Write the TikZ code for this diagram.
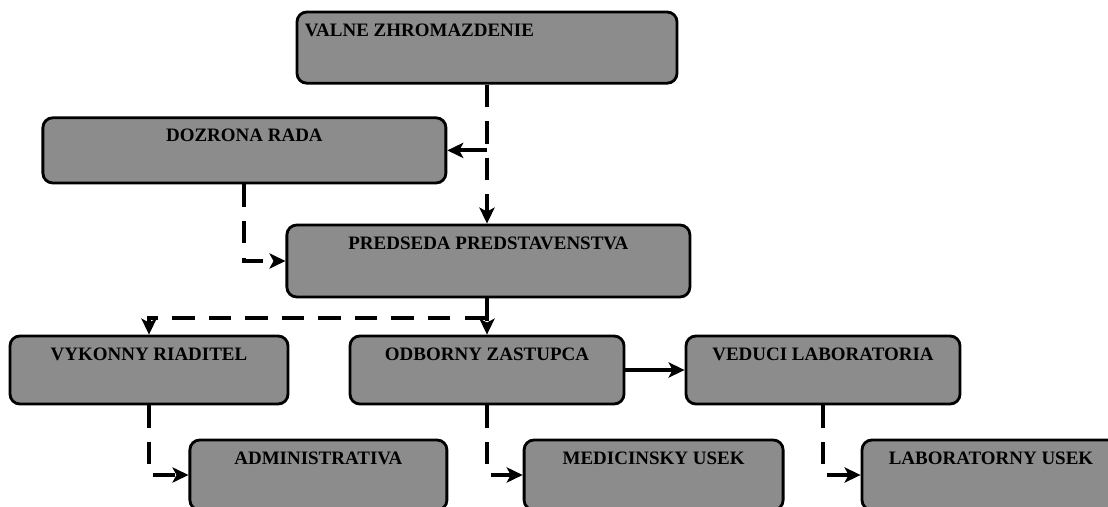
\documentclass[tikz,border=0pt]{standalone}
\usepackage{fontspec}
\setmainfont{Liberation Serif}
\usetikzlibrary{arrows.meta, positioning, calc}
\definecolor{cfill}{gray}{0.55}
\tikzset{
  every picture/.style={line width=2.8pt},
  box/.style={draw, line width=2pt, rounded corners=7pt, fill=cfill, minimum width=#1, minimum height=1.7cm, inner sep=0pt},
  box/.default=6.9cm,
  boxtext/.style={font=\fontsize{13.5}{15}\selectfont\bfseries, anchor=north, yshift=-0.24cm, inner sep=1pt},
  arrow/.style={-{Stealth[length=4mm, width=3.8mm, inset=1mm]}},
  dasharrow/.style={arrow, dash pattern=on 16pt off 10pt},
}

\begin{document}
\begin{tikzpicture}
  \useasboundingbox (0,0) rectangle (27.7,-12.675);
  % top of the chart
  \node[box=9.5cm, minimum height=1.78cm,
        label={[boxtext, anchor=north west, xshift=0.15cm]north west:VALNE ZHROMAZDENIE}] (valne) at (12.175,-1.19) {};
  \node[box=10.075cm, minimum height=1.63cm, label={[boxtext]north:DOZRONA RADA}] (dozor) at (6.11,-3.76) {};
  \node[box=10.075cm, minimum height=1.8cm, label={[boxtext]north:PREDSEDA PREDSTAVENSTVA}] (predseda) at (12.21,-6.525) {};
  % middle row
  \node[box=6.95cm, label={[boxtext]north:VYKONNY RIADITEL}] (vykonny) at (3.725,-9.25) {};
  \node[box=6.85cm, label={[boxtext]north:ODBORNY ZASTUPCA}] (odborny) at (12.175,-9.25) {};
  \node[box=6.85cm, label={[boxtext]north:VEDUCI LABORATORIA}] (veduci) at (20.575,-9.25) {};
  % bottom row
  \node[box=6.425cm, minimum height=1.75cm, label={[boxtext]north:ADMINISTRATIVA}] (admin) at (7.96,-11.875) {};
  \node[box=6.475cm, minimum height=1.75cm, label={[boxtext]north:MEDICINSKY USEK}] (medic) at (16.34,-11.875) {};
  \node[box=6.45cm, minimum height=1.75cm, label={[boxtext]north:LABORATORNY USEK}] (labor) at (24.775,-11.875) {};

  \draw[dasharrow] (valne.south) -- (valne.south |- predseda.north);
  \draw[arrow] (valne.south |- dozor.east) -- (dozor.east);
  \draw[dasharrow] (dozor.south) |- (predseda.west);
  \coordinate (split) at ($(predseda.south)!0.54!(predseda.south |- odborny.north)$);
  \draw[dasharrow] (odborny.north |- predseda.south) -- (odborny.north);
  \draw[dasharrow] (odborny.north |- split) -| (vykonny.north);
  \draw[arrow] (odborny.east) -- (veduci.west);
  \draw[dasharrow] (vykonny.south) |- (admin.west);
  \draw[dasharrow] (odborny.south) |- (medic.west);
  \draw[dasharrow] (veduci.south) |- (labor.west);
\end{tikzpicture}
\end{document}
